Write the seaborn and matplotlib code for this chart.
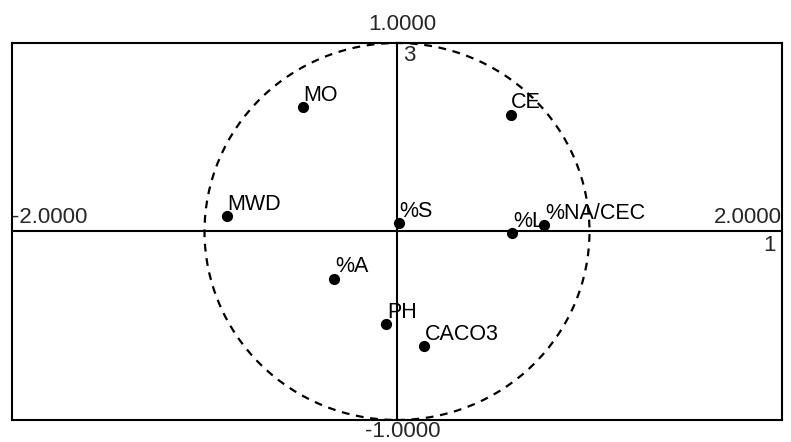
import numpy as np
import pandas as pd
import matplotlib
matplotlib.use("Agg")
import matplotlib.pyplot as plt
import seaborn as sns
from matplotlib.patches import Circle

# loadings (axis 1 horizontal, axis 3 vertical)
variables = ['MO', 'CE', 'MWD', '%S', '%L', '%NA/CEC', '%A', 'PH', 'CACO3']
axis1 = [-0.49, 0.59, -0.885, 0.01, 0.60, 0.765, -0.325, -0.055, 0.14]
axis3 = [0.66, 0.62, 0.08, 0.045, -0.01, 0.035, -0.25, -0.49, -0.61]

x_lim = [-2.0, 2.0]
y_lim = [-1.0, 1.0]

df = pd.DataFrame({'var': variables, 'f1': axis1, 'f3': axis3})

sns.set_style('white')
plt.rcParams['font.family'] = ['Liberation Sans', 'DejaVu Sans']

fig = plt.figure(figsize=(7.91, 4.42), dpi=100)
ax = fig.add_axes([0.0152, 0.0498, 0.9734, 0.8529])

sns.scatterplot(data=df, x='f1', y='f3', ax=ax, color='black', s=65,
                edgecolor='black', linewidth=0, zorder=4, legend=False)

for _, r in df.iterrows():
    ax.annotate(r['var'], (r['f1'], r['f3']), xytext=(0.5, 4.5),
                textcoords='offset points', fontsize=15.5, va='baseline',
                ha='left', color='black')

ax.axhline(0, color='black', lw=1.5, zorder=2)
ax.axvline(0, color='black', lw=1.5, zorder=2)
ax.add_patch(Circle((0, 0), 1.0, fill=False, ls=(0, (3.5, 3)), lw=1.6,
                    color='black', zorder=3, clip_on=False))

ax.set_xlim(x_lim)
ax.set_ylim(y_lim)
ax.set_xticks([])
ax.set_yticks([])
ax.set_xlabel('')
ax.set_ylabel('')
for sp in ax.spines.values():
    sp.set_color('black')
    sp.set_linewidth(1.5)

# axis range labels as in the original software output
ax.text(x_lim[0], 0.02, f'{x_lim[0]:.4f}', fontsize=16, ha='left', va='bottom')
ax.text(x_lim[1], 0.02, f'{x_lim[1]:.4f}', fontsize=16, ha='right', va='bottom')
ax.text(x_lim[1] - 0.03, -0.02, '1', fontsize=16, ha='right', va='top')
ax.text(0.03, y_lim[1] - 0.01, '3', fontsize=16, ha='left', va='top')
ax.text(0.03, y_lim[1] + 0.04, f'{y_lim[1]:.4f}', fontsize=16, ha='center', va='bottom')
ax.text(0.03, y_lim[0] - 0.005, f'{y_lim[0]:.4f}', fontsize=16, ha='center', va='top')

fig.savefig('out.png', dpi=100, facecolor='white')
